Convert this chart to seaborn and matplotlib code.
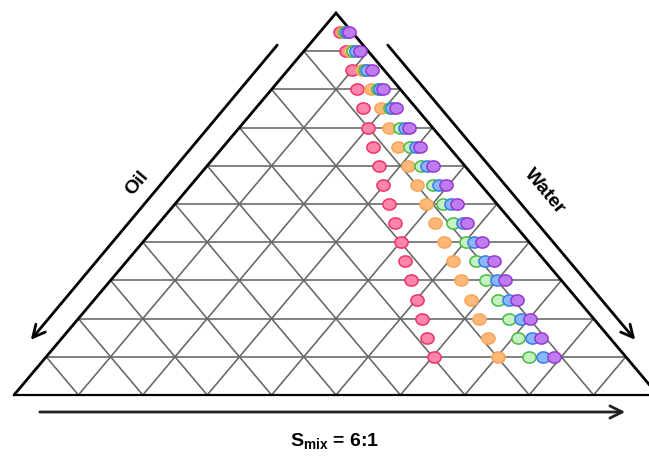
import numpy as np
import pandas as pd
import matplotlib.pyplot as plt
import seaborn as sns
from matplotlib.path import Path

# Smix level of each row (%), and water (%) of each point
smix = [95, 90, 85, 80, 75, 70, 65, 60, 55, 50, 45, 40, 35, 30, 25, 20, 15, 10]
water_pink = [3.1, 6.6, 10.0, 13.3, 16.7, 20.0, 23.3, 26.7, 29.8, 33.2, 36.7, 40.1, 43.2, 46.7, 50.1, 53.4, 56.6, 60.2]
water_orange = [3.6, 7.2, 11.5, 15.4, 19.5, 23.2, 27.1, 31.2, 35.1, 39.0, 42.9, 46.8, 50.7, 54.4, 58.5, 62.2, 66.1, 70.2]
water_green = [3.9, 7.6, 12.0, 16.5, 20.9, 24.9, 29.0, 33.2, 37.6, 41.6, 45.7, 50.2, 54.2, 58.3, 62.7, 66.9, 70.8, 75.0]
water_blue = [4.2, 8.1, 12.3, 16.8, 21.2, 25.7, 29.9, 34.1, 38.5, 42.9, 47.2, 51.4, 55.6, 60.0, 64.4, 68.7, 72.9, 77.1]
water_purple = [4.5, 8.7, 13.1, 17.3, 21.8, 26.3, 30.5, 35.1, 39.6, 43.8, 47.8, 52.7, 57.0, 61.2, 65.6, 70.1, 74.3, 78.9]

series = {"pink": water_pink, "orange": water_orange, "green": water_green,
          "blue": water_blue, "purple": water_purple}
fills = {"pink": "#ff85ad", "orange": "#ffb878", "green": "#c4f2c0",
         "blue": "#86b8fb", "purple": "#bf7cf0"}
edges = {"pink": "#ee3366", "orange": "#f5a65a", "green": "#48b848",
         "blue": "#3a7be8", "purple": "#9638d0"}

H = np.sqrt(3) / 2

rows = []
for name, w in series.items():
    for s, wv in zip(smix, w):
        rows.append({"series": name, "smix": s, "water": wv, "oil": 100 - s - wv})
df = pd.DataFrame(rows)
# oil at bottom-left, water at bottom-right, Smix at the top
df["X"] = df["water"] / 100 + df["smix"] / 200
df["Y"] = df["smix"] / 100 * H


def px2d(px, py):
    return (px - 14) / 644, (395 - py) / 382 * H


sns.set_style("white")
fig = plt.figure(figsize=(6.49, 4.57), dpi=100)
ax = fig.add_axes([0, 0, 1, 1])
ax.set_xlim(px2d(0, 0)[0], px2d(649, 0)[0])
ax.set_ylim(px2d(0, 457)[1], px2d(0, 0)[1])
ax.axis("off")

# grid
gc, gw = "#666666", 1.15
for k in range(1, 10):
    f = k / 10
    ax.plot([f / 2, 1 - f / 2], [f * H, f * H], color=gc, lw=gw, zorder=1)
    ax.plot([f, f + (1 - f) / 2], [0, (1 - f) * H], color=gc, lw=gw, zorder=1)
    ax.plot([1 - f, (1 - f) / 2], [0, (1 - f) * H], color=gc, lw=gw, zorder=1)

# outline
ax.plot([0, 0.5, 1], [0, H, 0], color="black", lw=2, zorder=2, solid_joinstyle="miter")
ax.plot([0, 1], [0, 0], color="black", lw=1.6, zorder=2)

# ellipse marker
t = np.linspace(0, 2 * np.pi, 60)
ellipse = Path(np.column_stack([1.18 * np.cos(t), np.sin(t)]), closed=True)

for name in series:
    sub = df[df["series"] == name]
    sns.scatterplot(data=sub, x="X", y="Y", ax=ax, marker=ellipse, s=90,
                    color=fills[name], edgecolor=edges[name], linewidth=1.1,
                    zorder=3, legend=False)

# axis arrows
arrow = dict(arrowstyle="->", lw=2, color="black", mutation_scale=22)
ax.annotate("", xy=px2d(29, 342), xytext=px2d(279, 43), arrowprops=arrow)
ax.annotate("", xy=px2d(637, 342), xytext=px2d(386, 43), arrowprops=arrow)
ax.annotate("", xy=px2d(628, 412), xytext=px2d(37, 412),
            arrowprops=dict(arrow, color="#222222"))

ax.text(*px2d(137, 183), "Oil", rotation=50, rotation_mode="anchor",
        ha="center", va="center", fontsize=14, fontweight="bold", color="black",
        family=["Liberation Sans", "DejaVu Sans"])
ax.text(*px2d(545, 192), "Water", rotation=-50, rotation_mode="anchor",
        ha="center", va="center", fontsize=14, fontweight="bold", color="black",
        family=["Liberation Sans", "DejaVu Sans"])

plt.rcParams["mathtext.fontset"] = "custom"
plt.rcParams["mathtext.bf"] = "Liberation Sans:bold"
plt.rcParams["mathtext.rm"] = "Liberation Sans:bold"
plt.rcParams["mathtext.default"] = "bf"
ax.text(*px2d(335, 441), r"S$_{mix}$ = 6:1", ha="center", va="center",
        fontsize=14, fontweight="bold", color="black",
        family=["Liberation Sans", "DejaVu Sans"])

fig.savefig("out.png", dpi=100)
